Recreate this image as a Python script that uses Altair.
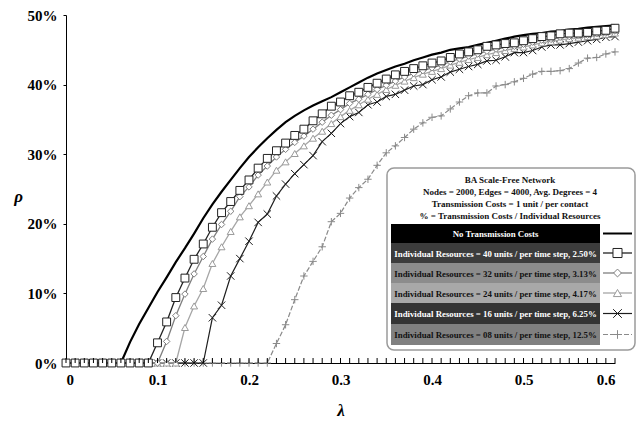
import altair as alt
import pandas as pd

# ---------------- data ----------------
lam = [round(i * 0.01, 2) for i in range(61)]

no_cost = [0, 0, 0, 0, 0, 0, 0,
           3.0, 5.6, 7.9, 10.2, 12.3, 14.5, 16.5, 18.6, 20.8, 22.8, 24.6, 26.3, 28.0, 29.6,
           31.0, 32.3, 33.5, 34.6, 35.5, 36.3, 37.0, 37.6, 38.2, 38.9, 39.6, 40.3, 41.0, 41.6,
           42.1, 42.6, 43.0, 43.5, 43.9, 44.3, 44.6, 45.0, 45.2, 45.4, 45.7, 46.0, 46.3, 46.6,
           46.9, 47.1, 47.3, 47.4, 47.6, 47.7, 47.9, 48.0, 48.2, 48.3, 48.4, 48.5]

r40 = [0, 0, 0, 0, 0, 0, 0, 0, 0, 0,
       2.9, 5.9, 9.4, 12.2, 14.9, 17.1, 19.5, 21.6, 23.2, 24.8, 26.3, 28.0, 29.4, 30.5, 31.6,
       32.7, 33.6, 34.8, 35.8, 36.9, 37.5, 38.4, 38.9, 39.6, 40.2, 40.8, 41.4, 41.9, 42.3,
       42.7, 43.1, 43.4, 43.9, 44.4, 44.7, 45.0, 45.5, 45.7, 45.9, 46.0, 46.3, 46.6, 46.9,
       47.0, 47.3, 47.4, 47.4, 47.5, 47.7, 47.8, 48.1]

r32 = [0, 0, 0, 0, 0, 0, 0, 0, 0, 0, 0,
       3.1, 6.8, 9.9, 12.8, 15.3, 17.8, 19.9, 21.8, 23.9, 25.3, 27.0, 28.3, 29.6, 30.7,
       31.7, 32.6, 33.6, 34.6, 35.6, 36.4, 37.3, 37.9, 38.6, 39.3, 39.9, 40.5, 41.1, 41.6,
       42.0, 42.4, 42.8, 43.3, 43.7, 44.1, 44.4, 44.8, 45.1, 45.3, 45.5, 45.8, 46.1, 46.4,
       46.5, 46.8, 46.9, 47.0, 47.1, 47.3, 47.4, 47.7]

r24 = [0, 0, 0, 0, 0, 0, 0, 0, 0, 0, 0, 0, 0,
       5.1, 8.2, 10.7, 14.3, 16.7, 18.9, 21.0, 22.6, 24.3, 26.0, 27.7, 28.9, 30.1, 31.2,
       32.3, 33.3, 34.4, 35.4, 36.3, 37.1, 37.9, 38.6, 39.3, 39.9, 40.5, 41.0, 41.5, 41.9,
       42.3, 42.8, 43.2, 43.6, 43.9, 44.3, 44.6, 44.9, 45.2, 45.4, 45.7, 46.0, 46.2, 46.4,
       46.6, 46.7, 46.9, 47.0, 47.2, 47.4]

r16 = [0, 0, 0, 0, 0, 0, 0, 0, 0, 0, 0, 0, 0, 0, 0, 0,
       6.5, 8.3, 12.5, 15.0, 17.5, 20.2, 21.4, 24.0, 25.7, 27.2, 28.5, 29.8, 31.8, 33.0,
       34.4, 35.4, 36.0, 37.1, 37.5, 38.3, 38.6, 39.2, 39.8, 40.0, 40.7, 41.1, 41.8, 42.2,
       42.6, 42.9, 43.4, 43.5, 44.0, 44.6, 44.6, 44.9, 45.4, 45.7, 45.7, 45.9, 46.1, 46.3,
       46.5, 46.8, 46.9]

r08 = [0, 0, 0, 0, 0, 0, 0, 0, 0, 0, 0, 0, 0, 0, 0, 0, 0, 0, 0, 0, 0, 0, 0,
       2.8, 5.5, 9.1, 12.5, 14.6, 16.7, 20.3, 21.5, 23.7, 25.2, 26.4, 28.4, 30.2, 31.2,
       32.4, 33.6, 34.5, 35.3, 35.5, 36.5, 37.5, 38.4, 38.8, 38.8, 39.8, 40.0, 40.4, 40.9,
       41.5, 41.9, 41.9, 42.0, 42.3, 43.1, 43.8, 43.9, 44.4, 44.7]

series_labels = [
    "No Transmission Costs",
    "Individual Resources = 40 units / per time step, 2.50%",
    "Individual Resources = 32 units / per time step, 3.13%",
    "Individual Resources = 24 units / per time step, 4.17%",
    "Individual Resources = 16 units / per time step, 6.25%",
    "Individual Resources = 08 units / per time step, 12.5%",
]
series_values = [no_cost, r40, r32, r24, r16, r08]

legend_title = [
    "BA Scale-Free Network",
    "Nodes = 2000, Edges = 4000, Avg. Degrees = 4",
    "Transmission Costs = 1 unit / per contact",
    "% = Transmission Costs / Individual Resources",
]

x_ticks = [0, 0.1, 0.2, 0.3, 0.4, 0.5, 0.6]
y_ticks = [0, 0.1, 0.2, 0.3, 0.4, 0.5]
minor_ticks = [round(i * 0.01, 2) for i in range(61)]

# ---------------- styles ----------------
X_PATH = "M-1,-1L1,1M-1,1L1,-1"
PLUS_PATH = "M-1,0L1,0M0,-1L0,1"
styles = [
    dict(color="#000000", width=2.2, dash=None, shape=None, fill=None, size=0, mstroke=None),
    dict(color="#222222", width=1.3, dash=None, shape="square", fill="white", size=62, mstroke="#222222"),
    dict(color="#7f7f7f", width=1.3, dash=None, shape="diamond", fill="white", size=42, mstroke="#7f7f7f"),
    dict(color="#a6a6a6", width=1.3, dash=None, shape="triangle-up", fill="white", size=48, mstroke="#9a9a9a"),
    dict(color="#1e1e1e", width=1.2, dash=None, shape=X_PATH, fill=None, size=55, mstroke="#1e1e1e"),
    dict(color="#8a8a8a", width=1.2, dash=[5, 2], shape=PLUS_PATH, fill=None, size=55, mstroke="#8a8a8a"),
]
row_bg = ["#000000", "#3c3c3c", "#8c8c8c", "#a8a8a8", "#343434", "#808080"]
row_fg = ["#ffffff", "#ffffff", "#111111", "#111111", "#ffffff", "#111111"]

W, H = 549, 348
FONT = "Liberation Serif"

rows = []
for name, vals in zip(series_labels, series_values):
    for l, v in zip(lam, vals):
        rows.append({"lam": l, "rho": v / 100.0, "series": name})
df = pd.DataFrame(rows)

x_scale = alt.Scale(domain=[0, 0.6], nice=False, zero=False)
y_scale = alt.Scale(domain=[0, 0.5], nice=False)

x_axis = alt.Axis(values=x_ticks, ticks=False, labelExpr="datum.value == 0 ? '0' : format(datum.value, '.1f')",
                  labelPadding=9, title="λ", titleFontStyle="italic", titleFontSize=17,
                  titleX=W / 2, titleY=47, titleBaseline="middle", titleAlign="center")
y_axis = alt.Axis(values=y_ticks, format=".0%", tickSize=3, labelPadding=6,
                  title="ρ", titleAngle=0, titleFontStyle="italic", titleFontSize=17,
                  titleX=-48, titleY=181, titleAlign="center", titleBaseline="middle")


def xenc(field):
    return alt.X(field, scale=x_scale, axis=x_axis)


def yenc(field):
    return alt.Y(field, scale=y_scale, axis=y_axis)


layers = []
order = [0, 5, 4, 3, 2, 1]
for i in order:
    st = styles[i]
    name = series_labels[i]
    line_kw = dict(color=st["color"], strokeWidth=st["width"], clip=False)
    if st["dash"]:
        line_kw["strokeDash"] = st["dash"]
    base = alt.Chart(df).transform_filter(alt.datum.series == name)
    layers.append(base.mark_line(**line_kw).encode(x=xenc("lam:Q"), y=yenc("rho:Q")))
    if st["shape"]:
        if st["fill"]:
            pt = base.mark_point(shape=st["shape"], filled=True, fill=st["fill"], stroke=st["mstroke"],
                                 strokeWidth=1, size=st["size"], opacity=1)
        else:
            pt = base.mark_point(shape=st["shape"], filled=False, stroke=st["mstroke"],
                                 strokeWidth=1, size=st["size"], opacity=1)
        layers.append(pt.encode(x=xenc("lam:Q"), y=yenc("rho:Q")))

# minor ticks on x axis (pointing up)
tick_df = pd.DataFrame({"lam": minor_ticks})
layers.append(alt.Chart(tick_df).mark_rule(color="black", strokeWidth=1).encode(
    x=xenc("lam:Q"), y=alt.value(H), y2=alt.value(H - 5)))

# ---------------- legend ----------------
one = pd.DataFrame({"k": [0]})
BOX_X0, BOX_X1, BOX_Y0, BOX_Y1 = 321, 569, 153, 335
layers.append(alt.Chart(one).mark_rect(fill="white", stroke="#9a9a9a", strokeWidth=1.5, cornerRadius=7).encode(
    x=alt.value(BOX_X0), x2=alt.value(BOX_X1), y=alt.value(BOX_Y0), y2=alt.value(BOX_Y1)))
for j, t in enumerate(legend_title):
    layers.append(alt.Chart(one).mark_text(text=t, font=FONT, fontWeight="bold", fontSize=9.0,
                                           color="#111111", align="center", baseline="middle").encode(
        x=alt.value(444), y=alt.value(165 + 12 * j)))

ROW_X0, ROW_X1 = 325, 534
row_tops = [209, 228, 248, 268, 288, 309, 330]
SYM_X0, SYM_X1 = 537, 566
for i in range(6):
    st = styles[i]
    y0, y1 = row_tops[i], row_tops[i + 1]
    yc = (y0 + y1) / 2
    layers.append(alt.Chart(one).mark_rect(fill=row_bg[i]).encode(
        x=alt.value(ROW_X0), x2=alt.value(ROW_X1), y=alt.value(y0), y2=alt.value(y1)))
    layers.append(alt.Chart(one).mark_text(text=series_labels[i], font=FONT, fontWeight="bold",
                                           fontSize=8.8, color=row_fg[i], align="center",
                                           baseline="middle").encode(
        x=alt.value((ROW_X0 + ROW_X1) / 2), y=alt.value(yc + 0.5)))
    rk = dict(color=st["color"], strokeWidth=st["width"] if i > 0 else 2)
    if st["dash"]:
        rk["strokeDash"] = st["dash"]
    layers.append(alt.Chart(one).mark_rule(**rk).encode(
        x=alt.value(SYM_X0), x2=alt.value(SYM_X1), y=alt.value(yc), y2=alt.value(yc)))
    if st["shape"]:
        if st["fill"]:
            pt = alt.Chart(one).mark_point(shape=st["shape"], filled=True, fill=st["fill"],
                                           stroke=st["mstroke"], strokeWidth=1, size=st["size"] + 20, opacity=1)
        else:
            pt = alt.Chart(one).mark_point(shape=st["shape"], filled=False, stroke=st["mstroke"],
                                           strokeWidth=1, size=st["size"] + 20, opacity=1)
        layers.append(pt.encode(x=alt.value((SYM_X0 + SYM_X1) / 2), y=alt.value(yc)))

chart = alt.layer(*layers).properties(
    width=W, height=H,
    autosize=alt.AutoSizeParams(type="none"),
    padding={"left": 66, "top": 15, "right": 24, "bottom": 61},
).configure_view(stroke=None).configure_axis(
    grid=False, domainColor="black", domainWidth=1, tickColor="black",
    labelFont=FONT, labelFontWeight="bold", labelFontSize=15, labelColor="black",
    titleFont=FONT, titleFontWeight="bold", titleColor="black",
)

chart.save("out.html", embed_options={"renderer": "svg", "actions": False})
